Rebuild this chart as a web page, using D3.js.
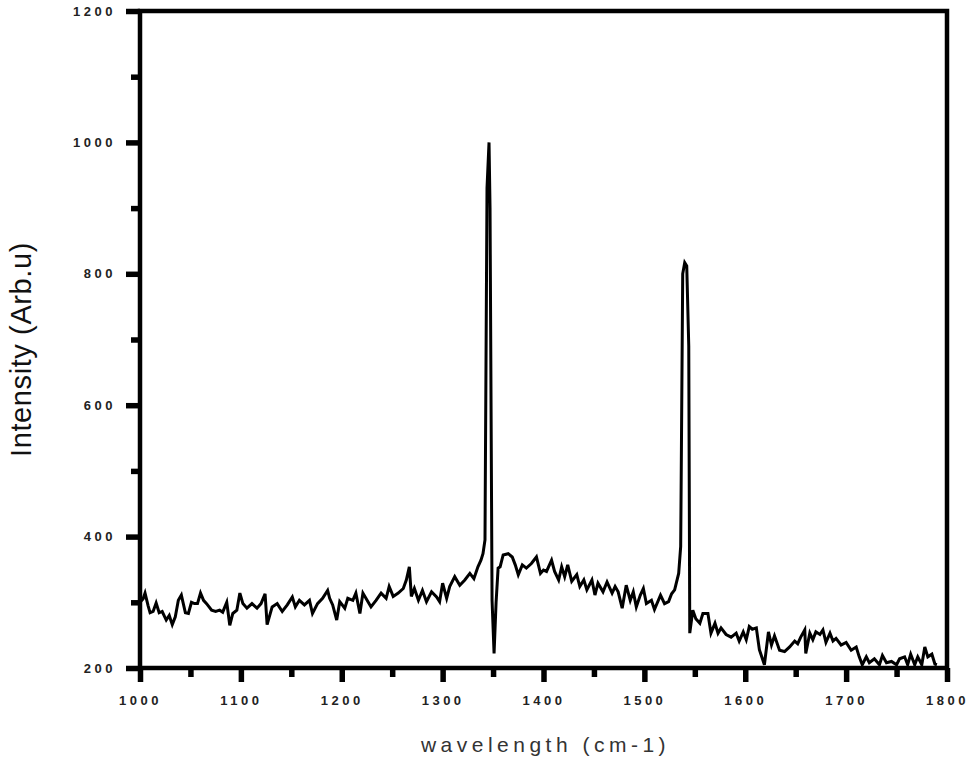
<!DOCTYPE html>
<html>
<head>
<meta charset="utf-8">
<script src="https://cdn.jsdelivr.net/npm/d3@7"></script>
<style>
  body { margin: 0; background: #fff; }
</style>
</head>
<body>
<div id="container"></div>
<script>
// wavenumber (cm-1) and intensity
const wavenumbers = [
  1000, 1003, 1005, 1008, 1010, 1013, 1016, 1019, 1022, 1026, 1029, 1032, 1035, 1038, 1041, 1045,
  1048, 1051, 1054, 1057, 1060, 1063, 1066, 1071, 1075, 1079, 1082, 1086, 1089, 1092, 1096, 1099,
  1102, 1106, 1111, 1116, 1120, 1124, 1126, 1131, 1136, 1141, 1146, 1151, 1154, 1158, 1163, 1168,
  1171, 1176, 1181, 1186, 1188, 1191, 1195, 1198, 1203, 1206, 1211, 1214, 1218, 1221, 1226, 1229,
  1234, 1239, 1244, 1247, 1251, 1256, 1261, 1264, 1267, 1269, 1272, 1276, 1280, 1284, 1289, 1294,
  1297, 1300, 1304, 1307, 1312, 1317, 1322, 1327, 1331, 1335, 1338, 1340, 1342, 1344, 1346, 1347,
  1349, 1351, 1353, 1355, 1357, 1360, 1365, 1369, 1372, 1375, 1379, 1383, 1388, 1393, 1397, 1400,
  1403, 1408, 1411, 1415, 1418, 1421, 1424, 1428, 1433, 1436, 1440, 1443, 1448, 1451, 1454, 1459,
  1463, 1468, 1471, 1474, 1478, 1482, 1486, 1489, 1492, 1496, 1499, 1502, 1507, 1510, 1516, 1520,
  1524, 1527, 1530, 1534, 1536, 1538, 1540, 1542, 1544, 1545, 1548, 1551, 1555, 1558, 1563, 1566,
  1570, 1573, 1576, 1581, 1586, 1591, 1594, 1598, 1601, 1604, 1607, 1611, 1614, 1619, 1623, 1626,
  1629, 1634, 1639, 1644, 1649, 1652, 1655, 1659, 1660, 1664, 1667, 1670, 1674, 1677, 1680, 1684,
  1687, 1690, 1695, 1700, 1705, 1710, 1713, 1716, 1720, 1723, 1728, 1733, 1736, 1740, 1745, 1750,
  1753, 1758, 1761, 1764, 1768, 1771, 1775, 1778, 1781, 1785, 1788, 1790
];
const intensities = [
  300, 305, 314, 295, 284, 286, 299, 284, 286, 273, 280, 266, 278, 303, 311, 284,
  283, 300, 298, 298, 314, 303, 298, 288, 286, 288, 285, 300, 265, 283, 288, 314,
  298, 291, 298, 291, 298, 313, 266, 293, 298, 286, 296, 308, 293, 303, 296, 303,
  283, 298, 306, 318, 306, 296, 273, 301, 291, 306, 303, 314, 283, 314, 301, 293,
  303, 314, 306, 324, 309, 314, 321, 334, 354, 309, 321, 303, 318, 301, 316, 308,
  301, 329, 306, 324, 339, 326, 334, 344, 336, 354, 364, 374, 395, 930, 1000, 900,
  303, 222, 300, 352, 354, 372, 374, 369, 357, 342, 357, 352, 359, 369, 344, 349,
  347, 364, 347, 334, 354, 339, 357, 332, 342, 324, 334, 319, 334, 311, 329, 316,
  331, 314, 324, 316, 291, 326, 303, 316, 293, 311, 321, 298, 303, 289, 311, 298,
  301, 313, 319, 344, 385, 800, 817, 812, 690, 253, 288, 275, 268, 283, 283, 253,
  268, 253, 261, 251, 247, 253, 241, 255, 243, 263, 259, 261, 228, 205, 255, 235,
  249, 227, 225, 232, 241, 237, 247, 258, 222, 253, 243, 255, 251, 258, 239, 253,
  241, 245, 235, 239, 227, 232, 217, 205, 217, 208, 214, 205, 219, 208, 210, 205,
  214, 217, 205, 221, 205, 217, 205, 232, 217, 221, 206, 205
];

const xTicks = [1000, 1100, 1200, 1300, 1400, 1500, 1600, 1700, 1800];
const yTicks = [200, 400, 600, 800, 1000, 1200];
const xMinorTicks = [1050, 1150, 1250, 1350, 1450, 1550, 1650, 1750];
const yMinorTicks = [300, 500, 700, 900, 1100];

const data = wavenumbers.map((w, i) => ({ w, v: intensities[i] }));

const width = 972;
const height = 763;
const marginTop = 11;
const marginRight = 25;
const marginBottom = 95;
const marginLeft = 140;

const x = d3
  .scaleLinear()
  .domain([1000, 1800])
  .range([marginLeft, width - marginRight]);

const y = d3
  .scaleLinear()
  .domain([200, 1200])
  .range([height - marginBottom, marginTop]);

const svg = d3.create("svg").attr("width", width).attr("height", height);

const tickFont = "'Liberation Sans', Arial, sans-serif";

const styleTicks = (g) => {
  g.select(".domain").remove();
  g.selectAll("line").attr("stroke", "#000").attr("stroke-width", 5.5);
  g.selectAll("text")
    .attr("font-family", tickFont)
    .attr("font-size", 13)
    .attr("font-weight", "bold")
    .attr("letter-spacing", "3.5px")
    .attr("fill", "#222");
};

// x axis: minor then major ticks
svg
  .append("g")
  .attr("transform", `translate(0,${height - marginBottom})`)
  .call(d3.axisBottom(x).tickValues(xMinorTicks).tickSize(9).tickFormat(""))
  .call(styleTicks);

svg
  .append("g")
  .attr("transform", `translate(0,${height - marginBottom})`)
  .call(d3.axisBottom(x).tickValues(xTicks).tickSize(14).tickPadding(14).tickFormat(d3.format("d")))
  .call(styleTicks);

// y axis: minor then major ticks
svg
  .append("g")
  .attr("transform", `translate(${marginLeft},0)`)
  .call(d3.axisLeft(y).tickValues(yMinorTicks).tickSize(9).tickFormat(""))
  .call(styleTicks);

svg
  .append("g")
  .attr("transform", `translate(${marginLeft},0)`)
  .call(d3.axisLeft(y).tickValues(yTicks).tickSize(14).tickPadding(10).tickFormat(d3.format("d")))
  .call(styleTicks);

// spectrum
const line = d3
  .line()
  .x((d) => x(d.w))
  .y((d) => y(d.v));

svg
  .append("path")
  .datum(data)
  .attr("fill", "none")
  .attr("stroke", "#000")
  .attr("stroke-width", 3)
  .attr("stroke-linejoin", "miter")
  .attr("d", line);

// frame
svg
  .append("rect")
  .attr("x", marginLeft)
  .attr("y", marginTop)
  .attr("width", width - marginRight - marginLeft)
  .attr("height", height - marginBottom - marginTop)
  .attr("fill", "none")
  .attr("stroke", "#000")
  .attr("stroke-width", 4.5);

svg
  .append("text")
  .attr("x", (marginLeft + width - marginRight) / 2 + 2)
  .attr("y", 752)
  .attr("text-anchor", "middle")
  .attr("font-family", tickFont)
  .attr("font-size", 21)
  .attr("letter-spacing", "4.5px")
  .attr("fill", "#333")
  .text("wavelength (cm-1)");

svg
  .append("text")
  .attr("transform", `translate(31,${(marginTop + height - marginBottom) / 2 + 10}) rotate(-90)`)
  .attr("text-anchor", "middle")
  .attr("font-family", tickFont)
  .attr("font-size", 29)
  .attr("letter-spacing", "0.6px")
  .attr("fill", "#111")
  .text("Intensity (Arb.u)");

d3.select("#container").append(() => svg.node());
</script>
</body>
</html>
